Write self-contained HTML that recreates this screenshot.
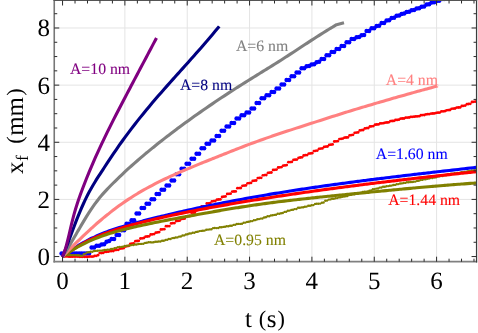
<!DOCTYPE html>
<html><head><meta charset="utf-8"><title>plot</title><style>html,body{margin:0;padding:0;background:#fff}svg{display:block;will-change:transform;opacity:0.999}svg text{text-rendering:geometricPrecision}</style></head><body>
<svg width="478" height="333" viewBox="0 0 478 333">
<rect width="478" height="333" fill="#fff"/>
<defs><clipPath id="pc"><rect x="54.25" y="0.50" width="422.30" height="261.20"/></clipPath></defs>
<g stroke="#e4e4e4" stroke-width="1"><line x1="124.89" y1="0.5" x2="124.89" y2="261.7"/><line x1="187.23" y1="0.5" x2="187.23" y2="261.7"/><line x1="249.57" y1="0.5" x2="249.57" y2="261.7"/><line x1="311.91" y1="0.5" x2="311.91" y2="261.7"/><line x1="374.25" y1="0.5" x2="374.25" y2="261.7"/><line x1="436.59" y1="0.5" x2="436.59" y2="261.7"/><line x1="54.2" y1="199.41" x2="476.6" y2="199.41"/><line x1="54.2" y1="142.27" x2="476.6" y2="142.27"/><line x1="54.2" y1="85.13" x2="476.6" y2="85.13"/><line x1="54.2" y1="27.99" x2="476.6" y2="27.99"/></g>
<g clip-path="url(#pc)">
<g fill="#0000ff"><circle cx="61.6" cy="253.4" r="2.25"/><circle cx="64.1" cy="253.4" r="2.25"/><circle cx="66.6" cy="253.4" r="2.25"/><circle cx="69.1" cy="253.4" r="2.25"/><circle cx="71.6" cy="253.4" r="2.25"/><circle cx="74.1" cy="253.4" r="2.25"/><circle cx="76.6" cy="253.4" r="2.25"/><circle cx="79.1" cy="253.4" r="2.25"/><circle cx="81.6" cy="253.4" r="2.25"/><circle cx="84.1" cy="253.4" r="2.25"/><circle cx="86.6" cy="253.4" r="2.25"/><circle cx="89.1" cy="253.4" r="2.25"/><circle cx="91.6" cy="247.6" r="2.25"/><circle cx="94.1" cy="247.6" r="2.25"/><circle cx="96.6" cy="245.7" r="2.25"/><circle cx="99.1" cy="245.7" r="2.25"/><circle cx="101.6" cy="244.5" r="2.25"/><circle cx="104.1" cy="244.3" r="2.25"/><circle cx="106.6" cy="241.7" r="2.25"/><circle cx="109.1" cy="241.0" r="2.25"/><circle cx="111.6" cy="239.0" r="2.25"/><circle cx="114.1" cy="239.0" r="2.25"/><circle cx="116.6" cy="235.1" r="2.25"/><circle cx="119.1" cy="235.1" r="2.25"/><circle cx="121.6" cy="230.3" r="2.25"/><circle cx="124.1" cy="230.3" r="2.25"/><circle cx="126.6" cy="223.8" r="2.25"/><circle cx="129.1" cy="223.8" r="2.25"/><circle cx="131.6" cy="220.3" r="2.25"/><circle cx="134.1" cy="220.3" r="2.25"/><circle cx="136.6" cy="213.5" r="2.25"/><circle cx="139.1" cy="213.5" r="2.25"/><circle cx="141.6" cy="208.0" r="2.25"/><circle cx="144.1" cy="208.0" r="2.25"/><circle cx="146.6" cy="203.7" r="2.25"/><circle cx="149.1" cy="203.7" r="2.25"/><circle cx="151.6" cy="199.2" r="2.25"/><circle cx="154.1" cy="199.2" r="2.25"/><circle cx="156.6" cy="194.1" r="2.25"/><circle cx="159.1" cy="194.1" r="2.25"/><circle cx="161.6" cy="189.8" r="2.25"/><circle cx="164.1" cy="189.8" r="2.25"/><circle cx="166.6" cy="185.6" r="2.25"/><circle cx="169.1" cy="185.6" r="2.25"/><circle cx="171.6" cy="180.6" r="2.25"/><circle cx="174.1" cy="180.6" r="2.25"/><circle cx="176.6" cy="174.2" r="2.25"/><circle cx="179.1" cy="174.2" r="2.25"/><circle cx="181.6" cy="168.8" r="2.25"/><circle cx="184.1" cy="168.8" r="2.25"/><circle cx="186.6" cy="163.7" r="2.25"/><circle cx="189.1" cy="163.7" r="2.25"/><circle cx="191.6" cy="158.7" r="2.25"/><circle cx="194.1" cy="158.7" r="2.25"/><circle cx="196.6" cy="153.8" r="2.25"/><circle cx="199.1" cy="153.8" r="2.25"/><circle cx="201.6" cy="148.3" r="2.25"/><circle cx="204.1" cy="148.3" r="2.25"/><circle cx="206.6" cy="143.8" r="2.25"/><circle cx="209.1" cy="143.8" r="2.25"/><circle cx="211.6" cy="140.4" r="2.25"/><circle cx="214.1" cy="140.4" r="2.25"/><circle cx="216.6" cy="135.9" r="2.25"/><circle cx="219.1" cy="135.9" r="2.25"/><circle cx="221.6" cy="130.8" r="2.25"/><circle cx="224.1" cy="130.8" r="2.25"/><circle cx="226.6" cy="126.5" r="2.25"/><circle cx="229.1" cy="126.5" r="2.25"/><circle cx="231.6" cy="122.9" r="2.25"/><circle cx="234.1" cy="122.9" r="2.25"/><circle cx="236.6" cy="118.5" r="2.25"/><circle cx="239.1" cy="118.5" r="2.25"/><circle cx="241.6" cy="115.2" r="2.25"/><circle cx="244.1" cy="115.2" r="2.25"/><circle cx="246.6" cy="112.5" r="2.25"/><circle cx="249.1" cy="112.5" r="2.25"/><circle cx="251.6" cy="108.4" r="2.25"/><circle cx="254.1" cy="108.4" r="2.25"/><circle cx="256.6" cy="102.9" r="2.25"/><circle cx="259.1" cy="102.9" r="2.25"/><circle cx="261.6" cy="98.2" r="2.25"/><circle cx="264.1" cy="98.2" r="2.25"/><circle cx="266.6" cy="95.2" r="2.25"/><circle cx="269.1" cy="95.2" r="2.25"/><circle cx="271.6" cy="92.1" r="2.25"/><circle cx="274.1" cy="92.1" r="2.25"/><circle cx="276.6" cy="88.5" r="2.25"/><circle cx="279.1" cy="88.5" r="2.25"/><circle cx="281.6" cy="84.5" r="2.25"/><circle cx="284.1" cy="84.5" r="2.25"/><circle cx="286.6" cy="80.1" r="2.25"/><circle cx="289.1" cy="80.1" r="2.25"/><circle cx="291.6" cy="76.3" r="2.25"/><circle cx="294.1" cy="76.3" r="2.25"/><circle cx="296.6" cy="72.4" r="2.25"/><circle cx="299.1" cy="72.4" r="2.25"/><circle cx="301.6" cy="68.2" r="2.25"/><circle cx="304.1" cy="68.2" r="2.25"/><circle cx="306.6" cy="66.3" r="2.25"/><circle cx="309.1" cy="66.1" r="2.25"/><circle cx="311.6" cy="64.5" r="2.25"/><circle cx="314.1" cy="64.2" r="2.25"/><circle cx="316.6" cy="62.2" r="2.25"/><circle cx="319.1" cy="61.8" r="2.25"/><circle cx="321.6" cy="59.0" r="2.25"/><circle cx="324.1" cy="59.0" r="2.25"/><circle cx="326.6" cy="55.3" r="2.25"/><circle cx="329.1" cy="55.3" r="2.25"/><circle cx="331.6" cy="52.1" r="2.25"/><circle cx="334.1" cy="52.1" r="2.25"/><circle cx="336.6" cy="49.0" r="2.25"/><circle cx="339.1" cy="49.0" r="2.25"/><circle cx="341.6" cy="46.0" r="2.25"/><circle cx="344.1" cy="46.0" r="2.25"/><circle cx="346.6" cy="42.2" r="2.25"/><circle cx="349.1" cy="42.2" r="2.25"/><circle cx="351.6" cy="39.1" r="2.25"/><circle cx="354.1" cy="39.1" r="2.25"/><circle cx="356.6" cy="37.3" r="2.25"/><circle cx="359.1" cy="37.0" r="2.25"/><circle cx="361.6" cy="35.2" r="2.25"/><circle cx="364.1" cy="35.1" r="2.25"/><circle cx="366.6" cy="31.0" r="2.25"/><circle cx="369.1" cy="31.0" r="2.25"/><circle cx="371.6" cy="28.3" r="2.25"/><circle cx="374.1" cy="28.3" r="2.25"/><circle cx="376.6" cy="25.9" r="2.25"/><circle cx="379.1" cy="25.7" r="2.25"/><circle cx="381.6" cy="23.1" r="2.25"/><circle cx="384.1" cy="22.9" r="2.25"/><circle cx="386.6" cy="20.5" r="2.25"/><circle cx="389.1" cy="20.3" r="2.25"/><circle cx="391.6" cy="18.1" r="2.25"/><circle cx="394.1" cy="17.7" r="2.25"/><circle cx="396.6" cy="15.7" r="2.25"/><circle cx="399.1" cy="15.4" r="2.25"/><circle cx="401.6" cy="13.9" r="2.25"/><circle cx="404.1" cy="13.6" r="2.25"/><circle cx="406.6" cy="12.1" r="2.25"/><circle cx="409.1" cy="11.8" r="2.25"/><circle cx="411.6" cy="10.3" r="2.25"/><circle cx="414.1" cy="10.1" r="2.25"/><circle cx="416.6" cy="8.6" r="2.25"/><circle cx="419.1" cy="8.3" r="2.25"/><circle cx="421.6" cy="6.8" r="2.25"/><circle cx="424.1" cy="6.5" r="2.25"/><circle cx="426.6" cy="4.6" r="2.25"/><circle cx="429.1" cy="4.3" r="2.25"/><circle cx="431.6" cy="2.5" r="2.25"/><circle cx="434.1" cy="2.2" r="2.25"/><circle cx="436.6" cy="1.0" r="2.25"/><circle cx="439.1" cy="0.7" r="2.25"/><circle cx="441.6" cy="-0.9" r="2.25"/><circle cx="444.1" cy="-1.1" r="2.25"/></g>
<g fill="#ff0000"><circle cx="64.0" cy="256.4" r="1.40"/><circle cx="65.7" cy="256.4" r="1.40"/><circle cx="67.4" cy="256.4" r="1.40"/><circle cx="69.1" cy="256.7" r="1.40"/><circle cx="70.8" cy="256.7" r="1.40"/><circle cx="72.5" cy="256.7" r="1.40"/><circle cx="74.2" cy="256.5" r="1.40"/><circle cx="75.9" cy="256.5" r="1.40"/><circle cx="77.6" cy="256.5" r="1.40"/><circle cx="79.3" cy="256.8" r="1.40"/><circle cx="81.0" cy="256.8" r="1.40"/><circle cx="82.7" cy="256.8" r="1.40"/><circle cx="84.4" cy="256.8" r="1.40"/><circle cx="86.1" cy="256.8" r="1.40"/><circle cx="87.8" cy="256.8" r="1.40"/><circle cx="89.5" cy="256.6" r="1.40"/><circle cx="91.2" cy="256.6" r="1.40"/><circle cx="92.9" cy="256.6" r="1.40"/><circle cx="94.6" cy="256.0" r="1.40"/><circle cx="96.3" cy="255.8" r="1.40"/><circle cx="98.0" cy="255.2" r="1.40"/><circle cx="99.7" cy="253.1" r="1.40"/><circle cx="101.4" cy="253.0" r="1.40"/><circle cx="103.1" cy="252.9" r="1.40"/><circle cx="104.8" cy="251.9" r="1.40"/><circle cx="106.5" cy="251.8" r="1.40"/><circle cx="108.2" cy="251.7" r="1.40"/><circle cx="109.9" cy="251.2" r="1.40"/><circle cx="111.6" cy="251.1" r="1.40"/><circle cx="113.3" cy="251.1" r="1.40"/><circle cx="115.0" cy="250.0" r="1.40"/><circle cx="116.7" cy="249.9" r="1.40"/><circle cx="118.4" cy="249.8" r="1.40"/><circle cx="120.1" cy="248.6" r="1.40"/><circle cx="121.8" cy="248.4" r="1.40"/><circle cx="123.5" cy="248.2" r="1.40"/><circle cx="125.2" cy="246.5" r="1.40"/><circle cx="126.9" cy="246.2" r="1.40"/><circle cx="128.6" cy="245.9" r="1.40"/><circle cx="130.3" cy="243.8" r="1.40"/><circle cx="132.0" cy="243.6" r="1.40"/><circle cx="133.7" cy="243.4" r="1.40"/><circle cx="135.4" cy="241.2" r="1.40"/><circle cx="137.1" cy="241.0" r="1.40"/><circle cx="138.8" cy="240.8" r="1.40"/><circle cx="140.5" cy="238.5" r="1.40"/><circle cx="142.2" cy="238.3" r="1.40"/><circle cx="143.9" cy="238.0" r="1.40"/><circle cx="145.6" cy="236.7" r="1.40"/><circle cx="147.3" cy="236.5" r="1.40"/><circle cx="149.0" cy="236.3" r="1.40"/><circle cx="150.7" cy="234.5" r="1.40"/><circle cx="152.4" cy="234.3" r="1.40"/><circle cx="154.1" cy="234.1" r="1.40"/><circle cx="155.8" cy="232.7" r="1.40"/><circle cx="157.5" cy="232.4" r="1.40"/><circle cx="159.2" cy="232.1" r="1.40"/><circle cx="160.9" cy="229.5" r="1.40"/><circle cx="162.6" cy="229.3" r="1.40"/><circle cx="164.3" cy="229.2" r="1.40"/><circle cx="166.0" cy="226.2" r="1.40"/><circle cx="167.7" cy="226.2" r="1.40"/><circle cx="169.4" cy="226.1" r="1.40"/><circle cx="171.1" cy="223.4" r="1.40"/><circle cx="172.8" cy="223.2" r="1.40"/><circle cx="174.5" cy="223.1" r="1.40"/><circle cx="176.2" cy="221.1" r="1.40"/><circle cx="177.9" cy="220.9" r="1.40"/><circle cx="179.6" cy="220.7" r="1.40"/><circle cx="181.3" cy="219.0" r="1.40"/><circle cx="183.0" cy="218.8" r="1.40"/><circle cx="184.7" cy="218.6" r="1.40"/><circle cx="186.4" cy="216.3" r="1.40"/><circle cx="188.1" cy="216.2" r="1.40"/><circle cx="189.8" cy="216.0" r="1.40"/><circle cx="191.5" cy="212.7" r="1.40"/><circle cx="193.2" cy="212.7" r="1.40"/><circle cx="194.9" cy="212.7" r="1.40"/><circle cx="196.6" cy="209.4" r="1.40"/><circle cx="198.3" cy="209.4" r="1.40"/><circle cx="200.0" cy="209.4" r="1.40"/><circle cx="201.7" cy="206.4" r="1.40"/><circle cx="203.4" cy="206.4" r="1.40"/><circle cx="205.1" cy="206.4" r="1.40"/><circle cx="206.8" cy="203.5" r="1.40"/><circle cx="208.5" cy="203.3" r="1.40"/><circle cx="210.2" cy="203.2" r="1.40"/><circle cx="211.9" cy="201.4" r="1.40"/><circle cx="213.6" cy="201.2" r="1.40"/><circle cx="215.3" cy="201.0" r="1.40"/><circle cx="217.0" cy="199.7" r="1.40"/><circle cx="218.7" cy="199.5" r="1.40"/><circle cx="220.4" cy="199.4" r="1.40"/><circle cx="222.1" cy="197.0" r="1.40"/><circle cx="223.8" cy="196.7" r="1.40"/><circle cx="225.5" cy="196.4" r="1.40"/><circle cx="227.2" cy="193.9" r="1.40"/><circle cx="228.9" cy="193.8" r="1.40"/><circle cx="230.6" cy="193.7" r="1.40"/><circle cx="232.3" cy="191.6" r="1.40"/><circle cx="234.0" cy="191.5" r="1.40"/><circle cx="235.7" cy="191.4" r="1.40"/><circle cx="237.4" cy="188.2" r="1.40"/><circle cx="239.1" cy="188.1" r="1.40"/><circle cx="240.8" cy="188.0" r="1.40"/><circle cx="242.5" cy="185.8" r="1.40"/><circle cx="244.2" cy="185.6" r="1.40"/><circle cx="245.9" cy="185.4" r="1.40"/><circle cx="247.6" cy="183.3" r="1.40"/><circle cx="249.3" cy="183.1" r="1.40"/><circle cx="251.0" cy="182.9" r="1.40"/><circle cx="252.7" cy="180.9" r="1.40"/><circle cx="254.4" cy="180.7" r="1.40"/><circle cx="256.1" cy="180.5" r="1.40"/><circle cx="257.8" cy="178.1" r="1.40"/><circle cx="259.5" cy="177.9" r="1.40"/><circle cx="261.2" cy="177.8" r="1.40"/><circle cx="262.9" cy="175.3" r="1.40"/><circle cx="264.6" cy="175.1" r="1.40"/><circle cx="266.3" cy="175.0" r="1.40"/><circle cx="268.0" cy="172.8" r="1.40"/><circle cx="269.7" cy="172.7" r="1.40"/><circle cx="271.4" cy="172.5" r="1.40"/><circle cx="273.1" cy="169.9" r="1.40"/><circle cx="274.8" cy="169.8" r="1.40"/><circle cx="276.5" cy="169.6" r="1.40"/><circle cx="278.2" cy="167.5" r="1.40"/><circle cx="279.9" cy="167.3" r="1.40"/><circle cx="281.6" cy="167.1" r="1.40"/><circle cx="283.3" cy="165.6" r="1.40"/><circle cx="285.0" cy="165.4" r="1.40"/><circle cx="286.7" cy="165.1" r="1.40"/><circle cx="288.4" cy="162.2" r="1.40"/><circle cx="290.1" cy="162.1" r="1.40"/><circle cx="291.8" cy="161.9" r="1.40"/><circle cx="293.5" cy="159.9" r="1.40"/><circle cx="295.2" cy="159.7" r="1.40"/><circle cx="296.9" cy="159.6" r="1.40"/><circle cx="298.6" cy="157.8" r="1.40"/><circle cx="300.3" cy="157.5" r="1.40"/><circle cx="302.0" cy="157.3" r="1.40"/><circle cx="303.7" cy="155.5" r="1.40"/><circle cx="305.4" cy="155.2" r="1.40"/><circle cx="307.1" cy="155.1" r="1.40"/><circle cx="308.8" cy="153.6" r="1.40"/><circle cx="310.5" cy="153.4" r="1.40"/><circle cx="312.2" cy="153.2" r="1.40"/><circle cx="313.9" cy="151.1" r="1.40"/><circle cx="315.6" cy="150.8" r="1.40"/><circle cx="317.3" cy="150.6" r="1.40"/><circle cx="319.0" cy="148.8" r="1.40"/><circle cx="320.7" cy="148.6" r="1.40"/><circle cx="322.4" cy="148.4" r="1.40"/><circle cx="324.1" cy="146.9" r="1.40"/><circle cx="325.8" cy="146.7" r="1.40"/><circle cx="327.5" cy="146.5" r="1.40"/><circle cx="329.2" cy="144.9" r="1.40"/><circle cx="330.9" cy="144.7" r="1.40"/><circle cx="332.6" cy="144.4" r="1.40"/><circle cx="334.3" cy="141.5" r="1.40"/><circle cx="336.0" cy="141.3" r="1.40"/><circle cx="337.7" cy="141.2" r="1.40"/><circle cx="339.4" cy="139.1" r="1.40"/><circle cx="341.1" cy="138.8" r="1.40"/><circle cx="342.8" cy="138.6" r="1.40"/><circle cx="344.5" cy="137.7" r="1.40"/><circle cx="346.2" cy="137.5" r="1.40"/><circle cx="347.9" cy="137.4" r="1.40"/><circle cx="349.6" cy="135.4" r="1.40"/><circle cx="351.3" cy="135.1" r="1.40"/><circle cx="353.0" cy="134.8" r="1.40"/><circle cx="354.7" cy="132.8" r="1.40"/><circle cx="356.4" cy="132.6" r="1.40"/><circle cx="358.1" cy="132.4" r="1.40"/><circle cx="359.8" cy="130.4" r="1.40"/><circle cx="361.5" cy="130.2" r="1.40"/><circle cx="363.2" cy="130.0" r="1.40"/><circle cx="364.9" cy="128.4" r="1.40"/><circle cx="366.6" cy="128.2" r="1.40"/><circle cx="368.3" cy="128.0" r="1.40"/><circle cx="370.0" cy="126.5" r="1.40"/><circle cx="371.7" cy="126.3" r="1.40"/><circle cx="373.4" cy="126.1" r="1.40"/><circle cx="375.1" cy="124.7" r="1.40"/><circle cx="376.8" cy="124.5" r="1.40"/><circle cx="378.5" cy="124.4" r="1.40"/><circle cx="380.2" cy="123.4" r="1.40"/><circle cx="381.9" cy="123.3" r="1.40"/><circle cx="383.6" cy="123.2" r="1.40"/><circle cx="385.3" cy="122.6" r="1.40"/><circle cx="387.0" cy="122.5" r="1.40"/><circle cx="388.7" cy="122.3" r="1.40"/><circle cx="390.4" cy="121.1" r="1.40"/><circle cx="392.1" cy="121.0" r="1.40"/><circle cx="393.8" cy="120.9" r="1.40"/><circle cx="395.5" cy="120.0" r="1.40"/><circle cx="397.2" cy="119.9" r="1.40"/><circle cx="398.9" cy="119.7" r="1.40"/><circle cx="400.6" cy="118.7" r="1.40"/><circle cx="402.3" cy="118.5" r="1.40"/><circle cx="404.0" cy="118.5" r="1.40"/><circle cx="405.7" cy="117.7" r="1.40"/><circle cx="407.4" cy="117.6" r="1.40"/><circle cx="409.1" cy="117.5" r="1.40"/><circle cx="410.8" cy="116.9" r="1.40"/><circle cx="412.5" cy="116.8" r="1.40"/><circle cx="414.2" cy="116.7" r="1.40"/><circle cx="415.9" cy="116.4" r="1.40"/><circle cx="417.6" cy="116.3" r="1.40"/><circle cx="419.3" cy="116.2" r="1.40"/><circle cx="421.0" cy="115.2" r="1.40"/><circle cx="422.7" cy="115.1" r="1.40"/><circle cx="424.4" cy="115.0" r="1.40"/><circle cx="426.1" cy="114.3" r="1.40"/><circle cx="427.8" cy="114.2" r="1.40"/><circle cx="429.5" cy="114.1" r="1.40"/><circle cx="431.2" cy="113.6" r="1.40"/><circle cx="432.9" cy="113.5" r="1.40"/><circle cx="434.6" cy="113.4" r="1.40"/><circle cx="436.3" cy="112.8" r="1.40"/><circle cx="438.0" cy="112.7" r="1.40"/><circle cx="439.7" cy="112.6" r="1.40"/><circle cx="441.4" cy="111.4" r="1.40"/><circle cx="443.1" cy="111.3" r="1.40"/><circle cx="444.8" cy="111.2" r="1.40"/><circle cx="446.5" cy="110.3" r="1.40"/><circle cx="448.2" cy="110.1" r="1.40"/><circle cx="449.9" cy="110.0" r="1.40"/><circle cx="451.6" cy="108.8" r="1.40"/><circle cx="453.3" cy="108.6" r="1.40"/><circle cx="455.0" cy="108.5" r="1.40"/><circle cx="456.7" cy="107.6" r="1.40"/><circle cx="458.4" cy="107.5" r="1.40"/><circle cx="460.1" cy="107.4" r="1.40"/><circle cx="461.8" cy="106.0" r="1.40"/><circle cx="463.5" cy="105.8" r="1.40"/><circle cx="465.2" cy="105.6" r="1.40"/><circle cx="466.9" cy="104.2" r="1.40"/><circle cx="468.6" cy="104.0" r="1.40"/><circle cx="470.3" cy="103.8" r="1.40"/><circle cx="472.0" cy="102.0" r="1.40"/><circle cx="473.7" cy="101.8" r="1.40"/><circle cx="475.4" cy="101.6" r="1.40"/><circle cx="477.1" cy="100.6" r="1.40"/><circle cx="478.8" cy="100.5" r="1.40"/><circle cx="480.5" cy="100.5" r="1.40"/></g>
<g fill="#808000"><circle cx="63.5" cy="254.5" r="1.20"/><circle cx="65.2" cy="254.6" r="1.20"/><circle cx="66.9" cy="255.0" r="1.20"/><circle cx="68.6" cy="255.1" r="1.20"/><circle cx="70.3" cy="255.0" r="1.20"/><circle cx="72.0" cy="255.1" r="1.20"/><circle cx="73.7" cy="255.1" r="1.20"/><circle cx="75.4" cy="255.1" r="1.20"/><circle cx="77.1" cy="255.2" r="1.20"/><circle cx="78.8" cy="255.3" r="1.20"/><circle cx="80.5" cy="255.7" r="1.20"/><circle cx="82.2" cy="255.7" r="1.20"/><circle cx="83.9" cy="254.1" r="1.20"/><circle cx="85.6" cy="253.6" r="1.20"/><circle cx="87.3" cy="252.4" r="1.20"/><circle cx="89.0" cy="252.3" r="1.20"/><circle cx="90.7" cy="251.8" r="1.20"/><circle cx="92.4" cy="251.7" r="1.20"/><circle cx="94.1" cy="251.0" r="1.20"/><circle cx="95.8" cy="250.9" r="1.20"/><circle cx="97.5" cy="250.7" r="1.20"/><circle cx="99.2" cy="250.6" r="1.20"/><circle cx="100.9" cy="250.6" r="1.20"/><circle cx="102.6" cy="250.5" r="1.20"/><circle cx="104.3" cy="250.0" r="1.20"/><circle cx="106.0" cy="249.9" r="1.20"/><circle cx="107.7" cy="249.6" r="1.20"/><circle cx="109.4" cy="249.6" r="1.20"/><circle cx="111.1" cy="249.0" r="1.20"/><circle cx="112.8" cy="249.0" r="1.20"/><circle cx="114.5" cy="248.1" r="1.20"/><circle cx="116.2" cy="248.0" r="1.20"/><circle cx="117.9" cy="247.1" r="1.20"/><circle cx="119.6" cy="247.0" r="1.20"/><circle cx="121.3" cy="246.9" r="1.20"/><circle cx="123.0" cy="246.8" r="1.20"/><circle cx="124.7" cy="246.0" r="1.20"/><circle cx="126.4" cy="246.0" r="1.20"/><circle cx="128.1" cy="245.6" r="1.20"/><circle cx="129.8" cy="245.5" r="1.20"/><circle cx="131.5" cy="245.1" r="1.20"/><circle cx="133.2" cy="245.0" r="1.20"/><circle cx="134.9" cy="244.5" r="1.20"/><circle cx="136.6" cy="244.5" r="1.20"/><circle cx="138.3" cy="244.0" r="1.20"/><circle cx="140.0" cy="243.9" r="1.20"/><circle cx="141.7" cy="243.9" r="1.20"/><circle cx="143.4" cy="243.8" r="1.20"/><circle cx="145.1" cy="242.9" r="1.20"/><circle cx="146.8" cy="242.8" r="1.20"/><circle cx="148.5" cy="242.3" r="1.20"/><circle cx="150.2" cy="242.2" r="1.20"/><circle cx="151.9" cy="242.4" r="1.20"/><circle cx="153.6" cy="242.3" r="1.20"/><circle cx="155.3" cy="241.8" r="1.20"/><circle cx="157.0" cy="241.7" r="1.20"/><circle cx="158.7" cy="241.5" r="1.20"/><circle cx="160.4" cy="241.5" r="1.20"/><circle cx="162.1" cy="240.8" r="1.20"/><circle cx="163.8" cy="240.7" r="1.20"/><circle cx="165.5" cy="240.0" r="1.20"/><circle cx="167.2" cy="239.8" r="1.20"/><circle cx="168.9" cy="239.0" r="1.20"/><circle cx="170.6" cy="239.0" r="1.20"/><circle cx="172.3" cy="238.1" r="1.20"/><circle cx="174.0" cy="238.0" r="1.20"/><circle cx="175.7" cy="237.5" r="1.20"/><circle cx="177.4" cy="237.4" r="1.20"/><circle cx="179.1" cy="236.6" r="1.20"/><circle cx="180.8" cy="236.5" r="1.20"/><circle cx="182.5" cy="235.5" r="1.20"/><circle cx="184.2" cy="235.4" r="1.20"/><circle cx="185.9" cy="234.5" r="1.20"/><circle cx="187.6" cy="234.3" r="1.20"/><circle cx="189.3" cy="233.5" r="1.20"/><circle cx="191.0" cy="233.4" r="1.20"/><circle cx="192.7" cy="232.8" r="1.20"/><circle cx="194.4" cy="232.7" r="1.20"/><circle cx="196.1" cy="231.9" r="1.20"/><circle cx="197.8" cy="231.8" r="1.20"/><circle cx="199.5" cy="231.1" r="1.20"/><circle cx="201.2" cy="230.9" r="1.20"/><circle cx="202.9" cy="230.7" r="1.20"/><circle cx="204.6" cy="230.6" r="1.20"/><circle cx="206.3" cy="229.7" r="1.20"/><circle cx="208.0" cy="229.6" r="1.20"/><circle cx="209.7" cy="229.4" r="1.20"/><circle cx="211.4" cy="229.3" r="1.20"/><circle cx="213.1" cy="228.1" r="1.20"/><circle cx="214.8" cy="228.0" r="1.20"/><circle cx="216.5" cy="228.1" r="1.20"/><circle cx="218.2" cy="228.0" r="1.20"/><circle cx="219.9" cy="227.3" r="1.20"/><circle cx="221.6" cy="227.3" r="1.20"/><circle cx="223.3" cy="226.9" r="1.20"/><circle cx="225.0" cy="226.8" r="1.20"/><circle cx="226.7" cy="226.3" r="1.20"/><circle cx="228.4" cy="226.2" r="1.20"/><circle cx="230.1" cy="225.7" r="1.20"/><circle cx="231.8" cy="225.7" r="1.20"/><circle cx="233.5" cy="224.9" r="1.20"/><circle cx="235.2" cy="224.8" r="1.20"/><circle cx="236.9" cy="224.0" r="1.20"/><circle cx="238.6" cy="223.9" r="1.20"/><circle cx="240.3" cy="223.9" r="1.20"/><circle cx="242.0" cy="223.8" r="1.20"/><circle cx="243.7" cy="222.7" r="1.20"/><circle cx="245.4" cy="222.6" r="1.20"/><circle cx="247.1" cy="221.9" r="1.20"/><circle cx="248.8" cy="221.8" r="1.20"/><circle cx="250.5" cy="221.2" r="1.20"/><circle cx="252.2" cy="221.1" r="1.20"/><circle cx="253.9" cy="220.2" r="1.20"/><circle cx="255.6" cy="220.1" r="1.20"/><circle cx="257.3" cy="219.2" r="1.20"/><circle cx="259.0" cy="219.1" r="1.20"/><circle cx="260.7" cy="218.6" r="1.20"/><circle cx="262.4" cy="218.5" r="1.20"/><circle cx="264.1" cy="217.5" r="1.20"/><circle cx="265.8" cy="217.3" r="1.20"/><circle cx="267.5" cy="216.3" r="1.20"/><circle cx="269.2" cy="216.2" r="1.20"/><circle cx="270.9" cy="215.4" r="1.20"/><circle cx="272.6" cy="215.3" r="1.20"/><circle cx="274.3" cy="214.9" r="1.20"/><circle cx="276.0" cy="214.8" r="1.20"/><circle cx="277.7" cy="213.8" r="1.20"/><circle cx="279.4" cy="213.7" r="1.20"/><circle cx="281.1" cy="213.2" r="1.20"/><circle cx="282.8" cy="213.0" r="1.20"/><circle cx="284.5" cy="211.9" r="1.20"/><circle cx="286.2" cy="211.7" r="1.20"/><circle cx="287.9" cy="210.7" r="1.20"/><circle cx="289.6" cy="210.6" r="1.20"/><circle cx="291.3" cy="209.9" r="1.20"/><circle cx="293.0" cy="209.8" r="1.20"/><circle cx="294.7" cy="209.1" r="1.20"/><circle cx="296.4" cy="209.0" r="1.20"/><circle cx="298.1" cy="207.8" r="1.20"/><circle cx="299.8" cy="207.7" r="1.20"/><circle cx="301.5" cy="207.4" r="1.20"/><circle cx="303.2" cy="207.3" r="1.20"/><circle cx="304.9" cy="206.7" r="1.20"/><circle cx="306.6" cy="206.6" r="1.20"/><circle cx="308.3" cy="205.8" r="1.20"/><circle cx="310.0" cy="205.7" r="1.20"/><circle cx="311.7" cy="205.2" r="1.20"/><circle cx="313.4" cy="205.1" r="1.20"/><circle cx="315.1" cy="203.9" r="1.20"/><circle cx="316.8" cy="203.8" r="1.20"/><circle cx="318.5" cy="203.7" r="1.20"/><circle cx="320.2" cy="203.6" r="1.20"/><circle cx="321.9" cy="202.7" r="1.20"/><circle cx="323.6" cy="202.5" r="1.20"/><circle cx="325.3" cy="200.8" r="1.20"/><circle cx="327.0" cy="200.6" r="1.20"/><circle cx="328.7" cy="199.6" r="1.20"/><circle cx="330.4" cy="199.4" r="1.20"/><circle cx="332.1" cy="198.8" r="1.20"/><circle cx="333.8" cy="198.7" r="1.20"/><circle cx="335.5" cy="198.2" r="1.20"/><circle cx="337.2" cy="198.1" r="1.20"/><circle cx="338.9" cy="197.4" r="1.20"/><circle cx="340.6" cy="197.3" r="1.20"/><circle cx="342.3" cy="196.7" r="1.20"/><circle cx="344.0" cy="196.6" r="1.20"/><circle cx="345.7" cy="196.2" r="1.20"/><circle cx="347.4" cy="196.1" r="1.20"/><circle cx="349.1" cy="195.0" r="1.20"/><circle cx="350.8" cy="194.9" r="1.20"/><circle cx="352.5" cy="194.4" r="1.20"/><circle cx="354.2" cy="194.3" r="1.20"/><circle cx="355.9" cy="193.8" r="1.20"/><circle cx="357.6" cy="193.7" r="1.20"/><circle cx="359.3" cy="192.9" r="1.20"/><circle cx="361.0" cy="192.8" r="1.20"/><circle cx="362.7" cy="192.0" r="1.20"/><circle cx="364.4" cy="191.8" r="1.20"/><circle cx="366.1" cy="191.6" r="1.20"/><circle cx="367.8" cy="191.5" r="1.20"/><circle cx="369.5" cy="190.6" r="1.20"/><circle cx="371.2" cy="190.5" r="1.20"/><circle cx="372.9" cy="189.2" r="1.20"/><circle cx="374.6" cy="189.1" r="1.20"/><circle cx="376.3" cy="188.6" r="1.20"/><circle cx="378.0" cy="188.5" r="1.20"/><circle cx="379.7" cy="187.6" r="1.20"/><circle cx="381.4" cy="187.5" r="1.20"/><circle cx="383.1" cy="186.8" r="1.20"/><circle cx="384.8" cy="186.7" r="1.20"/><circle cx="386.5" cy="186.2" r="1.20"/><circle cx="388.2" cy="186.1" r="1.20"/><circle cx="389.9" cy="185.7" r="1.20"/><circle cx="391.6" cy="185.6" r="1.20"/><circle cx="393.3" cy="185.0" r="1.20"/><circle cx="395.0" cy="184.9" r="1.20"/><circle cx="396.7" cy="184.2" r="1.20"/><circle cx="398.4" cy="184.1" r="1.20"/><circle cx="400.1" cy="183.5" r="1.20"/><circle cx="401.8" cy="183.4" r="1.20"/><circle cx="403.5" cy="183.0" r="1.20"/><circle cx="405.2" cy="182.9" r="1.20"/><circle cx="406.9" cy="182.3" r="1.20"/><circle cx="408.6" cy="182.2" r="1.20"/><circle cx="410.3" cy="182.0" r="1.20"/><circle cx="412.0" cy="182.0" r="1.20"/><circle cx="413.7" cy="181.7" r="1.20"/><circle cx="415.4" cy="181.6" r="1.20"/><circle cx="417.1" cy="180.9" r="1.20"/><circle cx="418.8" cy="180.8" r="1.20"/><circle cx="420.5" cy="180.0" r="1.20"/><circle cx="422.2" cy="179.9" r="1.20"/><circle cx="423.9" cy="179.3" r="1.20"/><circle cx="425.6" cy="179.2" r="1.20"/><circle cx="427.3" cy="178.7" r="1.20"/><circle cx="429.0" cy="178.6" r="1.20"/><circle cx="430.7" cy="178.1" r="1.20"/><circle cx="432.4" cy="178.0" r="1.20"/><circle cx="434.1" cy="177.5" r="1.20"/><circle cx="435.8" cy="177.4" r="1.20"/><circle cx="437.5" cy="176.5" r="1.20"/><circle cx="439.2" cy="176.4" r="1.20"/><circle cx="440.9" cy="176.1" r="1.20"/><circle cx="442.6" cy="176.0" r="1.20"/><circle cx="444.3" cy="175.3" r="1.20"/><circle cx="446.0" cy="175.2" r="1.20"/><circle cx="447.7" cy="174.5" r="1.20"/><circle cx="449.4" cy="174.3" r="1.20"/><circle cx="451.1" cy="173.8" r="1.20"/><circle cx="452.8" cy="173.7" r="1.20"/><circle cx="454.5" cy="173.3" r="1.20"/><circle cx="456.2" cy="173.3" r="1.20"/><circle cx="457.9" cy="172.9" r="1.20"/><circle cx="459.6" cy="172.9" r="1.20"/><circle cx="461.3" cy="172.2" r="1.20"/><circle cx="463.0" cy="172.1" r="1.20"/><circle cx="464.7" cy="171.9" r="1.20"/><circle cx="466.4" cy="171.8" r="1.20"/><circle cx="468.1" cy="171.2" r="1.20"/><circle cx="469.8" cy="171.1" r="1.20"/><circle cx="471.5" cy="170.5" r="1.20"/><circle cx="473.2" cy="170.4" r="1.20"/><circle cx="474.9" cy="170.2" r="1.20"/><circle cx="476.6" cy="170.1" r="1.20"/></g>
<path d="M62.30 256.86 C62.80 256.47 64.30 255.28 65.30 254.51 C66.30 253.75 67.30 253.00 68.30 252.28 C69.30 251.55 70.30 250.84 71.30 250.15 C72.30 249.46 73.30 248.79 74.30 248.13 C75.30 247.47 76.30 246.83 77.30 246.21 C78.30 245.59 79.30 244.98 80.30 244.39 C81.30 243.79 82.30 243.22 83.30 242.65 C84.30 242.09 85.30 241.54 86.30 241.01 C87.30 240.48 88.30 239.96 89.30 239.45 C90.30 238.95 91.30 238.45 92.30 237.97 C93.30 237.49 94.30 237.02 95.30 236.57 C96.30 236.11 97.30 235.67 98.30 235.23 C99.30 234.80 100.30 234.38 101.30 233.97 C102.30 233.56 103.30 233.15 104.30 232.76 C105.30 232.37 106.30 231.99 107.30 231.62 C108.30 231.24 109.30 230.88 110.30 230.53 C111.30 230.17 112.30 229.82 113.30 229.48 C114.30 229.14 115.30 228.81 116.30 228.49 C117.30 228.16 118.30 227.84 119.30 227.53 C120.30 227.22 121.30 226.91 122.30 226.61 C123.30 226.31 124.30 226.02 125.30 225.73 C126.30 225.44 127.30 225.15 128.30 224.87 C129.30 224.59 130.30 224.31 131.30 224.04 C132.30 223.77 133.30 223.50 134.30 223.23 C135.30 222.96 136.30 222.69 137.30 222.43 C138.30 222.17 139.30 221.91 140.30 221.65 C141.30 221.38 142.30 221.13 143.30 220.87 C144.30 220.61 145.30 220.35 146.30 220.10 C147.30 219.84 148.30 219.59 149.30 219.34 C150.30 219.08 151.30 218.83 152.30 218.58 C153.30 218.33 154.30 218.08 155.30 217.84 C156.30 217.59 157.30 217.34 158.30 217.10 C159.30 216.85 160.30 216.61 161.30 216.36 C162.30 216.12 163.30 215.88 164.30 215.64 C165.30 215.40 166.30 215.16 167.30 214.92 C168.30 214.68 169.30 214.45 170.30 214.21 C171.30 213.97 172.30 213.74 173.30 213.51 C174.30 213.27 175.30 213.04 176.30 212.81 C177.30 212.58 178.30 212.35 179.30 212.12 C180.30 211.89 181.30 211.67 182.30 211.44 C183.30 211.21 184.30 210.99 185.30 210.76 C186.30 210.54 187.30 210.32 188.30 210.09 C189.30 209.87 190.30 209.65 191.30 209.43 C192.30 209.21 193.30 208.99 194.30 208.78 C195.30 208.56 196.30 208.34 197.30 208.13 C198.30 207.91 199.30 207.70 200.30 207.49 C201.30 207.27 202.30 207.06 203.30 206.85 C204.30 206.64 205.30 206.43 206.30 206.22 C207.30 206.01 208.30 205.81 209.30 205.60 C210.30 205.39 211.30 205.19 212.30 204.98 C213.30 204.78 214.30 204.57 215.30 204.37 C216.30 204.17 217.30 203.97 218.30 203.77 C219.30 203.57 220.30 203.37 221.30 203.17 C222.30 202.97 223.30 202.78 224.30 202.58 C225.30 202.38 226.30 202.19 227.30 201.99 C228.30 201.80 229.30 201.61 230.30 201.41 C231.30 201.22 232.30 201.03 233.30 200.84 C234.30 200.65 235.30 200.46 236.30 200.27 C237.30 200.09 238.30 199.90 239.30 199.71 C240.30 199.53 241.30 199.34 242.30 199.16 C243.30 198.97 244.30 198.79 245.30 198.61 C246.30 198.42 247.30 198.24 248.30 198.06 C249.30 197.88 250.30 197.70 251.30 197.52 C252.30 197.34 253.30 197.17 254.30 196.99 C255.30 196.81 256.30 196.64 257.30 196.46 C258.30 196.29 259.30 196.11 260.30 195.94 C261.30 195.77 262.30 195.59 263.30 195.42 C264.30 195.25 265.30 195.08 266.30 194.91 C267.30 194.74 268.30 194.57 269.30 194.40 C270.30 194.23 271.30 194.07 272.30 193.90 C273.30 193.73 274.30 193.57 275.30 193.40 C276.30 193.24 277.30 193.08 278.30 192.91 C279.30 192.75 280.30 192.59 281.30 192.42 C282.30 192.26 283.30 192.10 284.30 191.94 C285.30 191.78 286.30 191.62 287.30 191.46 C288.30 191.31 289.30 191.15 290.30 190.99 C291.30 190.83 292.30 190.68 293.30 190.52 C294.30 190.37 295.30 190.21 296.30 190.06 C297.30 189.90 298.30 189.75 299.30 189.60 C300.30 189.45 301.30 189.29 302.30 189.14 C303.30 188.99 304.30 188.84 305.30 188.69 C306.30 188.54 307.30 188.39 308.30 188.24 C309.30 188.09 310.30 187.95 311.30 187.80 C312.30 187.65 313.30 187.51 314.30 187.36 C315.30 187.21 316.30 187.07 317.30 186.92 C318.30 186.78 319.30 186.64 320.30 186.49 C321.30 186.35 322.30 186.21 323.30 186.07 C324.30 185.92 325.30 185.78 326.30 185.64 C327.30 185.50 328.30 185.36 329.30 185.22 C330.30 185.08 331.30 184.94 332.30 184.80 C333.30 184.66 334.30 184.53 335.30 184.39 C336.30 184.25 337.30 184.12 338.30 183.98 C339.30 183.84 340.30 183.71 341.30 183.57 C342.30 183.44 343.30 183.30 344.30 183.17 C345.30 183.03 346.30 182.90 347.30 182.77 C348.30 182.63 349.30 182.50 350.30 182.37 C351.30 182.24 352.30 182.11 353.30 181.97 C354.30 181.84 355.30 181.71 356.30 181.58 C357.30 181.45 358.30 181.32 359.30 181.19 C360.30 181.06 361.30 180.93 362.30 180.81 C363.30 180.68 364.30 180.55 365.30 180.42 C366.30 180.30 367.30 180.17 368.30 180.04 C369.30 179.91 370.30 179.79 371.30 179.66 C372.30 179.54 373.30 179.41 374.30 179.29 C375.30 179.16 376.30 179.04 377.30 178.91 C378.30 178.79 379.30 178.66 380.30 178.54 C381.30 178.42 382.30 178.29 383.30 178.17 C384.30 178.05 385.30 177.93 386.30 177.80 C387.30 177.68 388.30 177.56 389.30 177.44 C390.30 177.32 391.30 177.20 392.30 177.08 C393.30 176.95 394.30 176.83 395.30 176.71 C396.30 176.59 397.30 176.47 398.30 176.35 C399.30 176.23 400.30 176.12 401.30 176.00 C402.30 175.88 403.30 175.76 404.30 175.64 C405.30 175.52 406.30 175.40 407.30 175.29 C408.30 175.17 409.30 175.05 410.30 174.93 C411.30 174.81 412.30 174.70 413.30 174.58 C414.30 174.46 415.30 174.35 416.30 174.23 C417.30 174.11 418.30 174.00 419.30 173.88 C420.30 173.76 421.30 173.65 422.30 173.53 C423.30 173.42 424.30 173.30 425.30 173.19 C426.30 173.07 427.30 172.96 428.30 172.84 C429.30 172.73 430.30 172.61 431.30 172.50 C432.30 172.38 433.30 172.27 434.30 172.15 C435.30 172.04 436.30 171.92 437.30 171.81 C438.30 171.69 439.30 171.58 440.30 171.47 C441.30 171.35 442.30 171.24 443.30 171.12 C444.30 171.01 445.30 170.90 446.30 170.78 C447.30 170.67 448.30 170.56 449.30 170.44 C450.30 170.33 451.30 170.22 452.30 170.10 C453.30 169.99 454.30 169.88 455.30 169.76 C456.30 169.65 457.30 169.54 458.30 169.42 C459.30 169.31 460.30 169.20 461.30 169.08 C462.30 168.97 463.30 168.86 464.30 168.74 C465.30 168.63 466.30 168.52 467.30 168.40 C468.30 168.29 469.30 168.18 470.30 168.06 C471.30 167.95 472.30 167.84 473.30 167.73 C474.30 167.61 475.72 167.45 476.30 167.39 C476.88 167.32 476.72 167.34 476.80 167.33" fill="none" stroke="#0000ff" stroke-width="3.1" stroke-linejoin="round"/>
<path d="M62.30 256.84 C62.80 256.47 64.30 255.34 65.30 254.62 C66.30 253.90 67.30 253.20 68.30 252.51 C69.30 251.82 70.30 251.15 71.30 250.49 C72.30 249.83 73.30 249.19 74.30 248.57 C75.30 247.94 76.30 247.33 77.30 246.74 C78.30 246.14 79.30 245.56 80.30 244.99 C81.30 244.42 82.30 243.87 83.30 243.33 C84.30 242.79 85.30 242.26 86.30 241.74 C87.30 241.23 88.30 240.73 89.30 240.24 C90.30 239.75 91.30 239.27 92.30 238.80 C93.30 238.33 94.30 237.88 95.30 237.43 C96.30 236.99 97.30 236.56 98.30 236.13 C99.30 235.71 100.30 235.30 101.30 234.89 C102.30 234.49 103.30 234.10 104.30 233.71 C105.30 233.33 106.30 232.95 107.30 232.58 C108.30 232.22 109.30 231.86 110.30 231.51 C111.30 231.16 112.30 230.81 113.30 230.48 C114.30 230.14 115.30 229.81 116.30 229.49 C117.30 229.17 118.30 228.85 119.30 228.55 C120.30 228.24 121.30 227.93 122.30 227.64 C123.30 227.34 124.30 227.05 125.30 226.76 C126.30 226.47 127.30 226.19 128.30 225.91 C129.30 225.63 130.30 225.36 131.30 225.09 C132.30 224.82 133.30 224.55 134.30 224.29 C135.30 224.02 136.30 223.76 137.30 223.51 C138.30 223.25 139.30 222.99 140.30 222.74 C141.30 222.49 142.30 222.23 143.30 221.98 C144.30 221.73 145.30 221.49 146.30 221.24 C147.30 220.99 148.30 220.75 149.30 220.51 C150.30 220.27 151.30 220.02 152.30 219.79 C153.30 219.55 154.30 219.31 155.30 219.08 C156.30 218.84 157.30 218.61 158.30 218.37 C159.30 218.14 160.30 217.91 161.30 217.68 C162.30 217.46 163.30 217.23 164.30 217.00 C165.30 216.78 166.30 216.55 167.30 216.33 C168.30 216.11 169.30 215.89 170.30 215.67 C171.30 215.45 172.30 215.24 173.30 215.02 C174.30 214.80 175.30 214.59 176.30 214.38 C177.30 214.16 178.30 213.95 179.30 213.74 C180.30 213.53 181.30 213.32 182.30 213.12 C183.30 212.91 184.30 212.70 185.30 212.50 C186.30 212.29 187.30 212.09 188.30 211.89 C189.30 211.69 190.30 211.49 191.30 211.29 C192.30 211.09 193.30 210.89 194.30 210.70 C195.30 210.50 196.30 210.30 197.30 210.11 C198.30 209.92 199.30 209.72 200.30 209.53 C201.30 209.34 202.30 209.15 203.30 208.96 C204.30 208.77 205.30 208.58 206.30 208.39 C207.30 208.21 208.30 208.02 209.30 207.84 C210.30 207.65 211.30 207.47 212.30 207.28 C213.30 207.10 214.30 206.92 215.30 206.74 C216.30 206.56 217.30 206.38 218.30 206.20 C219.30 206.02 220.30 205.84 221.30 205.66 C222.30 205.48 223.30 205.31 224.30 205.13 C225.30 204.96 226.30 204.78 227.30 204.61 C228.30 204.43 229.30 204.26 230.30 204.09 C231.30 203.92 232.30 203.75 233.30 203.57 C234.30 203.40 235.30 203.23 236.30 203.07 C237.30 202.90 238.30 202.73 239.30 202.56 C240.30 202.39 241.30 202.22 242.30 202.06 C243.30 201.89 244.30 201.73 245.30 201.56 C246.30 201.39 247.30 201.23 248.30 201.07 C249.30 200.90 250.30 200.74 251.30 200.57 C252.30 200.41 253.30 200.25 254.30 200.09 C255.30 199.93 256.30 199.77 257.30 199.60 C258.30 199.44 259.30 199.28 260.30 199.13 C261.30 198.97 262.30 198.81 263.30 198.65 C264.30 198.49 265.30 198.33 266.30 198.18 C267.30 198.02 268.30 197.86 269.30 197.71 C270.30 197.55 271.30 197.40 272.30 197.24 C273.30 197.09 274.30 196.93 275.30 196.78 C276.30 196.63 277.30 196.47 278.30 196.32 C279.30 196.17 280.30 196.02 281.30 195.86 C282.30 195.71 283.30 195.56 284.30 195.41 C285.30 195.26 286.30 195.11 287.30 194.96 C288.30 194.81 289.30 194.67 290.30 194.52 C291.30 194.37 292.30 194.22 293.30 194.07 C294.30 193.93 295.30 193.78 296.30 193.64 C297.30 193.49 298.30 193.34 299.30 193.20 C300.30 193.05 301.30 192.91 302.30 192.77 C303.30 192.62 304.30 192.48 305.30 192.34 C306.30 192.19 307.30 192.05 308.30 191.91 C309.30 191.77 310.30 191.62 311.30 191.48 C312.30 191.34 313.30 191.20 314.30 191.06 C315.30 190.92 316.30 190.78 317.30 190.64 C318.30 190.50 319.30 190.37 320.30 190.23 C321.30 190.09 322.30 189.95 323.30 189.82 C324.30 189.68 325.30 189.54 326.30 189.41 C327.30 189.27 328.30 189.13 329.30 189.00 C330.30 188.86 331.30 188.73 332.30 188.59 C333.30 188.46 334.30 188.33 335.30 188.19 C336.30 188.06 337.30 187.93 338.30 187.79 C339.30 187.66 340.30 187.53 341.30 187.40 C342.30 187.27 343.30 187.13 344.30 187.00 C345.30 186.87 346.30 186.74 347.30 186.61 C348.30 186.48 349.30 186.35 350.30 186.22 C351.30 186.09 352.30 185.97 353.30 185.84 C354.30 185.71 355.30 185.58 356.30 185.45 C357.30 185.33 358.30 185.20 359.30 185.07 C360.30 184.95 361.30 184.82 362.30 184.69 C363.30 184.57 364.30 184.44 365.30 184.32 C366.30 184.19 367.30 184.07 368.30 183.94 C369.30 183.82 370.30 183.69 371.30 183.57 C372.30 183.45 373.30 183.32 374.30 183.20 C375.30 183.08 376.30 182.96 377.30 182.83 C378.30 182.71 379.30 182.59 380.30 182.47 C381.30 182.35 382.30 182.23 383.30 182.11 C384.30 181.99 385.30 181.86 386.30 181.74 C387.30 181.62 388.30 181.51 389.30 181.39 C390.30 181.27 391.30 181.15 392.30 181.03 C393.30 180.91 394.30 180.79 395.30 180.67 C396.30 180.56 397.30 180.44 398.30 180.32 C399.30 180.20 400.30 180.09 401.30 179.97 C402.30 179.85 403.30 179.74 404.30 179.62 C405.30 179.50 406.30 179.39 407.30 179.27 C408.30 179.16 409.30 179.04 410.30 178.93 C411.30 178.81 412.30 178.70 413.30 178.58 C414.30 178.47 415.30 178.36 416.30 178.24 C417.30 178.13 418.30 178.02 419.30 177.90 C420.30 177.79 421.30 177.68 422.30 177.56 C423.30 177.45 424.30 177.34 425.30 177.23 C426.30 177.12 427.30 177.00 428.30 176.89 C429.30 176.78 430.30 176.67 431.30 176.56 C432.30 176.45 433.30 176.34 434.30 176.23 C435.30 176.12 436.30 176.01 437.30 175.90 C438.30 175.79 439.30 175.68 440.30 175.57 C441.30 175.46 442.30 175.35 443.30 175.24 C444.30 175.13 445.30 175.02 446.30 174.91 C447.30 174.81 448.30 174.70 449.30 174.59 C450.30 174.48 451.30 174.37 452.30 174.27 C453.30 174.16 454.30 174.05 455.30 173.94 C456.30 173.84 457.30 173.73 458.30 173.62 C459.30 173.52 460.30 173.41 461.30 173.30 C462.30 173.20 463.30 173.09 464.30 172.99 C465.30 172.88 466.30 172.77 467.30 172.67 C468.30 172.56 469.30 172.46 470.30 172.35 C471.30 172.25 472.30 172.14 473.30 172.04 C474.30 171.93 475.72 171.78 476.30 171.72 C476.88 171.66 476.72 171.68 476.80 171.67" fill="none" stroke="#ff0000" stroke-width="3.1" stroke-linejoin="round"/>
<path d="M62.30 256.87 C62.80 256.51 64.30 255.42 65.30 254.72 C66.30 254.03 67.30 253.35 68.30 252.69 C69.30 252.03 70.30 251.39 71.30 250.76 C72.30 250.13 73.30 249.53 74.30 248.94 C75.30 248.34 76.30 247.77 77.30 247.21 C78.30 246.65 79.30 246.11 80.30 245.58 C81.30 245.05 82.30 244.54 83.30 244.04 C84.30 243.54 85.30 243.05 86.30 242.58 C87.30 242.11 88.30 241.65 89.30 241.20 C90.30 240.75 91.30 240.32 92.30 239.89 C93.30 239.47 94.30 239.06 95.30 238.66 C96.30 238.26 97.30 237.87 98.30 237.48 C99.30 237.10 100.30 236.73 101.30 236.37 C102.30 236.01 103.30 235.66 104.30 235.31 C105.30 234.97 106.30 234.63 107.30 234.31 C108.30 233.98 109.30 233.66 110.30 233.35 C111.30 233.03 112.30 232.73 113.30 232.43 C114.30 232.13 115.30 231.84 116.30 231.56 C117.30 231.27 118.30 231.00 119.30 230.72 C120.30 230.45 121.30 230.19 122.30 229.92 C123.30 229.66 124.30 229.41 125.30 229.15 C126.30 228.90 127.30 228.66 128.30 228.41 C129.30 228.17 130.30 227.93 131.30 227.70 C132.30 227.46 133.30 227.23 134.30 227.00 C135.30 226.77 136.30 226.55 137.30 226.32 C138.30 226.10 139.30 225.88 140.30 225.66 C141.30 225.44 142.30 225.22 143.30 225.01 C144.30 224.79 145.30 224.58 146.30 224.37 C147.30 224.15 148.30 223.94 149.30 223.73 C150.30 223.53 151.30 223.32 152.30 223.11 C153.30 222.91 154.30 222.70 155.30 222.50 C156.30 222.30 157.30 222.10 158.30 221.90 C159.30 221.70 160.30 221.50 161.30 221.30 C162.30 221.10 163.30 220.91 164.30 220.71 C165.30 220.51 166.30 220.32 167.30 220.13 C168.30 219.93 169.30 219.74 170.30 219.55 C171.30 219.36 172.30 219.17 173.30 218.98 C174.30 218.79 175.30 218.60 176.30 218.42 C177.30 218.23 178.30 218.04 179.30 217.86 C180.30 217.67 181.30 217.48 182.30 217.30 C183.30 217.11 184.30 216.93 185.30 216.75 C186.30 216.56 187.30 216.38 188.30 216.20 C189.30 216.01 190.30 215.83 191.30 215.65 C192.30 215.47 193.30 215.29 194.30 215.11 C195.30 214.93 196.30 214.74 197.30 214.57 C198.30 214.39 199.30 214.21 200.30 214.03 C201.30 213.85 202.30 213.67 203.30 213.49 C204.30 213.32 205.30 213.14 206.30 212.96 C207.30 212.78 208.30 212.61 209.30 212.43 C210.30 212.26 211.30 212.08 212.30 211.91 C213.30 211.73 214.30 211.56 215.30 211.38 C216.30 211.21 217.30 211.03 218.30 210.86 C219.30 210.69 220.30 210.51 221.30 210.34 C222.30 210.17 223.30 210.00 224.30 209.83 C225.30 209.66 226.30 209.49 227.30 209.32 C228.30 209.15 229.30 208.98 230.30 208.82 C231.30 208.65 232.30 208.48 233.30 208.32 C234.30 208.15 235.30 207.99 236.30 207.83 C237.30 207.67 238.30 207.50 239.30 207.35 C240.30 207.19 241.30 207.03 242.30 206.87 C243.30 206.71 244.30 206.56 245.30 206.41 C246.30 206.25 247.30 206.10 248.30 205.95 C249.30 205.80 250.30 205.65 251.30 205.50 C252.30 205.35 253.30 205.21 254.30 205.06 C255.30 204.92 256.30 204.77 257.30 204.63 C258.30 204.49 259.30 204.35 260.30 204.21 C261.30 204.07 262.30 203.93 263.30 203.79 C264.30 203.66 265.30 203.52 266.30 203.39 C267.30 203.25 268.30 203.12 269.30 202.99 C270.30 202.86 271.30 202.72 272.30 202.59 C273.30 202.46 274.30 202.34 275.30 202.21 C276.30 202.08 277.30 201.96 278.30 201.83 C279.30 201.70 280.30 201.58 281.30 201.46 C282.30 201.33 283.30 201.21 284.30 201.09 C285.30 200.97 286.30 200.85 287.30 200.73 C288.30 200.61 289.30 200.49 290.30 200.37 C291.30 200.26 292.30 200.14 293.30 200.03 C294.30 199.91 295.30 199.79 296.30 199.68 C297.30 199.57 298.30 199.45 299.30 199.34 C300.30 199.23 301.30 199.12 302.30 199.01 C303.30 198.90 304.30 198.79 305.30 198.68 C306.30 198.57 307.30 198.46 308.30 198.35 C309.30 198.24 310.30 198.14 311.30 198.03 C312.30 197.92 313.30 197.82 314.30 197.71 C315.30 197.60 316.30 197.50 317.30 197.40 C318.30 197.29 319.30 197.19 320.30 197.08 C321.30 196.98 322.30 196.88 323.30 196.78 C324.30 196.67 325.30 196.57 326.30 196.47 C327.30 196.37 328.30 196.27 329.30 196.17 C330.30 196.07 331.30 195.97 332.30 195.87 C333.30 195.77 334.30 195.67 335.30 195.57 C336.30 195.47 337.30 195.37 338.30 195.27 C339.30 195.17 340.30 195.07 341.30 194.97 C342.30 194.87 343.30 194.78 344.30 194.68 C345.30 194.58 346.30 194.48 347.30 194.39 C348.30 194.29 349.30 194.19 350.30 194.09 C351.30 194.00 352.30 193.90 353.30 193.80 C354.30 193.70 355.30 193.61 356.30 193.51 C357.30 193.41 358.30 193.32 359.30 193.22 C360.30 193.12 361.30 193.02 362.30 192.93 C363.30 192.83 364.30 192.73 365.30 192.64 C366.30 192.54 367.30 192.44 368.30 192.34 C369.30 192.25 370.30 192.15 371.30 192.05 C372.30 191.96 373.30 191.86 374.30 191.76 C375.30 191.67 376.30 191.57 377.30 191.47 C378.30 191.38 379.30 191.28 380.30 191.18 C381.30 191.09 382.30 190.99 383.30 190.90 C384.30 190.80 385.30 190.70 386.30 190.61 C387.30 190.51 388.30 190.42 389.30 190.32 C390.30 190.23 391.30 190.13 392.30 190.04 C393.30 189.94 394.30 189.85 395.30 189.75 C396.30 189.66 397.30 189.57 398.30 189.47 C399.30 189.38 400.30 189.28 401.30 189.19 C402.30 189.10 403.30 189.00 404.30 188.91 C405.30 188.82 406.30 188.73 407.30 188.63 C408.30 188.54 409.30 188.45 410.30 188.36 C411.30 188.27 412.30 188.17 413.30 188.08 C414.30 187.99 415.30 187.90 416.30 187.81 C417.30 187.72 418.30 187.63 419.30 187.54 C420.30 187.45 421.30 187.36 422.30 187.28 C423.30 187.19 424.30 187.10 425.30 187.01 C426.30 186.92 427.30 186.83 428.30 186.75 C429.30 186.66 430.30 186.57 431.30 186.49 C432.30 186.40 433.30 186.32 434.30 186.23 C435.30 186.15 436.30 186.06 437.30 185.98 C438.30 185.89 439.30 185.81 440.30 185.73 C441.30 185.64 442.30 185.56 443.30 185.48 C444.30 185.40 445.30 185.31 446.30 185.23 C447.30 185.15 448.30 185.07 449.30 184.99 C450.30 184.91 451.30 184.83 452.30 184.75 C453.30 184.67 454.30 184.60 455.30 184.52 C456.30 184.44 457.30 184.36 458.30 184.29 C459.30 184.21 460.30 184.14 461.30 184.06 C462.30 183.99 463.30 183.91 464.30 183.84 C465.30 183.76 466.30 183.69 467.30 183.62 C468.30 183.55 469.30 183.48 470.30 183.40 C471.30 183.33 472.30 183.26 473.30 183.19 C474.30 183.12 475.72 183.03 476.30 182.99 C476.88 182.95 476.72 182.96 476.80 182.95" fill="none" stroke="#808000" stroke-width="3.1" stroke-linejoin="round"/>
<path d="M62.30 256.91 C62.80 256.39 64.30 254.82 65.30 253.79 C66.30 252.75 67.30 251.72 68.30 250.70 C69.30 249.68 70.30 248.66 71.30 247.65 C72.30 246.64 73.30 245.64 74.30 244.64 C75.30 243.65 76.30 242.66 77.30 241.68 C78.30 240.70 79.30 239.72 80.30 238.76 C81.30 237.79 82.30 236.83 83.30 235.88 C84.30 234.93 85.30 233.99 86.30 233.05 C87.30 232.12 88.30 231.19 89.30 230.27 C90.30 229.35 91.30 228.45 92.30 227.54 C93.30 226.64 94.30 225.75 95.30 224.87 C96.30 223.99 97.30 223.11 98.30 222.25 C99.30 221.39 100.30 220.53 101.30 219.69 C102.30 218.84 103.30 218.01 104.30 217.18 C105.30 216.36 106.30 215.54 107.30 214.74 C108.30 213.93 109.30 213.14 110.30 212.35 C111.30 211.57 112.30 210.80 113.30 210.04 C114.30 209.27 115.30 208.52 116.30 207.78 C117.30 207.04 118.30 206.31 119.30 205.59 C120.30 204.87 121.30 204.16 122.30 203.47 C123.30 202.77 124.30 202.08 125.30 201.40 C126.30 200.72 127.30 200.05 128.30 199.39 C129.30 198.73 130.30 198.08 131.30 197.44 C132.30 196.80 133.30 196.17 134.30 195.55 C135.30 194.93 136.30 194.31 137.30 193.71 C138.30 193.10 139.30 192.51 140.30 191.92 C141.30 191.33 142.30 190.75 143.30 190.18 C144.30 189.61 145.30 189.05 146.30 188.49 C147.30 187.94 148.30 187.39 149.30 186.85 C150.30 186.31 151.30 185.78 152.30 185.26 C153.30 184.73 154.30 184.21 155.30 183.70 C156.30 183.19 157.30 182.69 158.30 182.19 C159.30 181.69 160.30 181.20 161.30 180.71 C162.30 180.22 163.30 179.74 164.30 179.27 C165.30 178.79 166.30 178.32 167.30 177.85 C168.30 177.38 169.30 176.92 170.30 176.46 C171.30 176.00 172.30 175.55 173.30 175.10 C174.30 174.65 175.30 174.20 176.30 173.76 C177.30 173.31 178.30 172.87 179.30 172.43 C180.30 172.00 181.30 171.56 182.30 171.13 C183.30 170.70 184.30 170.27 185.30 169.84 C186.30 169.42 187.30 169.00 188.30 168.57 C189.30 168.15 190.30 167.74 191.30 167.32 C192.30 166.90 193.30 166.49 194.30 166.08 C195.30 165.66 196.30 165.25 197.30 164.85 C198.30 164.44 199.30 164.03 200.30 163.62 C201.30 163.22 202.30 162.81 203.30 162.41 C204.30 162.01 205.30 161.61 206.30 161.21 C207.30 160.80 208.30 160.40 209.30 160.00 C210.30 159.61 211.30 159.21 212.30 158.81 C213.30 158.41 214.30 158.01 215.30 157.61 C216.30 157.22 217.30 156.82 218.30 156.42 C219.30 156.02 220.30 155.62 221.30 155.23 C222.30 154.83 223.30 154.43 224.30 154.03 C225.30 153.63 226.30 153.24 227.30 152.84 C228.30 152.44 229.30 152.04 230.30 151.65 C231.30 151.25 232.30 150.86 233.30 150.46 C234.30 150.07 235.30 149.67 236.30 149.28 C237.30 148.89 238.30 148.50 239.30 148.11 C240.30 147.72 241.30 147.33 242.30 146.95 C243.30 146.56 244.30 146.18 245.30 145.80 C246.30 145.42 247.30 145.04 248.30 144.66 C249.30 144.29 250.30 143.91 251.30 143.54 C252.30 143.17 253.30 142.80 254.30 142.44 C255.30 142.07 256.30 141.71 257.30 141.35 C258.30 140.99 259.30 140.63 260.30 140.27 C261.30 139.92 262.30 139.56 263.30 139.21 C264.30 138.86 265.30 138.51 266.30 138.16 C267.30 137.81 268.30 137.47 269.30 137.12 C270.30 136.78 271.30 136.43 272.30 136.09 C273.30 135.75 274.30 135.41 275.30 135.07 C276.30 134.74 277.30 134.40 278.30 134.07 C279.30 133.73 280.30 133.40 281.30 133.06 C282.30 132.73 283.30 132.40 284.30 132.07 C285.30 131.74 286.30 131.41 287.30 131.08 C288.30 130.76 289.30 130.43 290.30 130.10 C291.30 129.78 292.30 129.45 293.30 129.13 C294.30 128.80 295.30 128.48 296.30 128.15 C297.30 127.83 298.30 127.51 299.30 127.18 C300.30 126.86 301.30 126.54 302.30 126.22 C303.30 125.89 304.30 125.57 305.30 125.25 C306.30 124.93 307.30 124.61 308.30 124.29 C309.30 123.97 310.30 123.64 311.30 123.32 C312.30 123.00 313.30 122.68 314.30 122.36 C315.30 122.03 316.30 121.71 317.30 121.39 C318.30 121.07 319.30 120.75 320.30 120.42 C321.30 120.10 322.30 119.78 323.30 119.46 C324.30 119.14 325.30 118.82 326.30 118.50 C327.30 118.18 328.30 117.86 329.30 117.54 C330.30 117.22 331.30 116.90 332.30 116.58 C333.30 116.27 334.30 115.95 335.30 115.63 C336.30 115.32 337.30 115.00 338.30 114.69 C339.30 114.37 340.30 114.06 341.30 113.75 C342.30 113.44 343.30 113.13 344.30 112.82 C345.30 112.51 346.30 112.20 347.30 111.89 C348.30 111.58 349.30 111.27 350.30 110.97 C351.30 110.66 352.30 110.35 353.30 110.05 C354.30 109.74 355.30 109.44 356.30 109.14 C357.30 108.83 358.30 108.53 359.30 108.23 C360.30 107.93 361.30 107.63 362.30 107.33 C363.30 107.03 364.30 106.73 365.30 106.43 C366.30 106.13 367.30 105.83 368.30 105.54 C369.30 105.24 370.30 104.94 371.30 104.65 C372.30 104.35 373.30 104.06 374.30 103.76 C375.30 103.47 376.30 103.18 377.30 102.88 C378.30 102.59 379.30 102.30 380.30 102.01 C381.30 101.72 382.30 101.43 383.30 101.14 C384.30 100.85 385.30 100.56 386.30 100.27 C387.30 99.98 388.30 99.69 389.30 99.40 C390.30 99.12 391.30 98.83 392.30 98.54 C393.30 98.26 394.30 97.97 395.30 97.69 C396.30 97.40 397.30 97.12 398.30 96.83 C399.30 96.55 400.30 96.27 401.30 95.98 C402.30 95.70 403.30 95.42 404.30 95.14 C405.30 94.86 406.30 94.57 407.30 94.29 C408.30 94.01 409.30 93.73 410.30 93.45 C411.30 93.17 412.30 92.90 413.30 92.62 C414.30 92.34 415.30 92.06 416.30 91.78 C417.30 91.50 418.30 91.23 419.30 90.95 C420.30 90.67 421.30 90.40 422.30 90.12 C423.30 89.84 424.30 89.57 425.30 89.29 C426.30 89.02 427.30 88.74 428.30 88.47 C429.30 88.19 430.30 87.92 431.30 87.65 C432.30 87.37 433.30 87.10 434.30 86.83 C435.30 86.55 436.78 86.15 437.30 86.01 C437.82 85.87 437.38 85.99 437.40 85.98" fill="none" stroke="#ff8080" stroke-width="3.1" stroke-linejoin="round"/>
<path d="M62.30 256.90 C62.80 256.13 64.30 253.85 65.30 252.26 C66.30 250.68 67.30 249.05 68.30 247.40 C69.30 245.75 70.30 244.07 71.30 242.38 C72.30 240.68 73.30 238.97 74.30 237.25 C75.30 235.53 76.30 233.80 77.30 232.08 C78.30 230.36 79.30 228.63 80.30 226.92 C81.30 225.22 82.30 223.51 83.30 221.84 C84.30 220.17 85.30 218.51 86.30 216.89 C87.30 215.27 88.30 213.68 89.30 212.13 C90.30 210.59 91.30 209.07 92.30 207.62 C93.30 206.17 94.30 204.77 95.30 203.41 C96.30 202.06 97.30 200.76 98.30 199.50 C99.30 198.24 100.30 197.02 101.30 195.84 C102.30 194.66 103.30 193.52 104.30 192.40 C105.30 191.28 106.30 190.20 107.30 189.14 C108.30 188.07 109.30 187.04 110.30 186.02 C111.30 184.99 112.30 183.99 113.30 182.99 C114.30 182.00 115.30 181.01 116.30 180.04 C117.30 179.06 118.30 178.09 119.30 177.13 C120.30 176.17 121.30 175.22 122.30 174.28 C123.30 173.34 124.30 172.40 125.30 171.48 C126.30 170.55 127.30 169.63 128.30 168.72 C129.30 167.81 130.30 166.90 131.30 166.01 C132.30 165.11 133.30 164.22 134.30 163.34 C135.30 162.46 136.30 161.58 137.30 160.71 C138.30 159.84 139.30 158.98 140.30 158.13 C141.30 157.27 142.30 156.42 143.30 155.58 C144.30 154.73 145.30 153.90 146.30 153.06 C147.30 152.23 148.30 151.41 149.30 150.58 C150.30 149.76 151.30 148.95 152.30 148.14 C153.30 147.32 154.30 146.52 155.30 145.72 C156.30 144.92 157.30 144.12 158.30 143.33 C159.30 142.53 160.30 141.75 161.30 140.96 C162.30 140.18 163.30 139.40 164.30 138.62 C165.30 137.84 166.30 137.07 167.30 136.30 C168.30 135.53 169.30 134.77 170.30 134.00 C171.30 133.24 172.30 132.48 173.30 131.73 C174.30 130.97 175.30 130.22 176.30 129.47 C177.30 128.72 178.30 127.98 179.30 127.23 C180.30 126.49 181.30 125.75 182.30 125.02 C183.30 124.28 184.30 123.55 185.30 122.82 C186.30 122.09 187.30 121.36 188.30 120.64 C189.30 119.92 190.30 119.20 191.30 118.48 C192.30 117.76 193.30 117.05 194.30 116.34 C195.30 115.63 196.30 114.92 197.30 114.22 C198.30 113.51 199.30 112.81 200.30 112.11 C201.30 111.41 202.30 110.71 203.30 110.02 C204.30 109.33 205.30 108.64 206.30 107.95 C207.30 107.26 208.30 106.57 209.30 105.89 C210.30 105.21 211.30 104.53 212.30 103.85 C213.30 103.17 214.30 102.50 215.30 101.83 C216.30 101.15 217.30 100.48 218.30 99.82 C219.30 99.15 220.30 98.48 221.30 97.82 C222.30 97.16 223.30 96.50 224.30 95.84 C225.30 95.18 226.30 94.53 227.30 93.87 C228.30 93.22 229.30 92.57 230.30 91.92 C231.30 91.27 232.30 90.63 233.30 89.98 C234.30 89.34 235.30 88.70 236.30 88.05 C237.30 87.41 238.30 86.78 239.30 86.14 C240.30 85.50 241.30 84.87 242.30 84.24 C243.30 83.61 244.30 82.98 245.30 82.35 C246.30 81.72 247.30 81.09 248.30 80.47 C249.30 79.84 250.30 79.22 251.30 78.60 C252.30 77.98 253.30 77.36 254.30 76.74 C255.30 76.12 256.30 75.51 257.30 74.89 C258.30 74.27 259.30 73.66 260.30 73.04 C261.30 72.42 262.30 71.81 263.30 71.19 C264.30 70.57 265.30 69.96 266.30 69.34 C267.30 68.72 268.30 68.10 269.30 67.48 C270.30 66.86 271.30 66.24 272.30 65.62 C273.30 65.00 274.30 64.37 275.30 63.74 C276.30 63.12 277.30 62.49 278.30 61.85 C279.30 61.22 280.30 60.59 281.30 59.95 C282.30 59.31 283.30 58.67 284.30 58.03 C285.30 57.38 286.30 56.74 287.30 56.09 C288.30 55.44 289.30 54.79 290.30 54.14 C291.30 53.49 292.30 52.84 293.30 52.18 C294.30 51.53 295.30 50.87 296.30 50.22 C297.30 49.56 298.30 48.91 299.30 48.25 C300.30 47.60 301.30 46.94 302.30 46.28 C303.30 45.63 304.30 44.97 305.30 44.32 C306.30 43.67 307.30 43.01 308.30 42.36 C309.30 41.71 310.30 41.06 311.30 40.41 C312.30 39.76 313.30 39.11 314.30 38.47 C315.30 37.83 316.30 37.18 317.30 36.54 C318.30 35.90 319.30 35.27 320.30 34.63 C321.30 34.00 322.30 33.37 323.30 32.74 C324.30 32.12 325.30 31.50 326.30 30.88 C327.30 30.26 328.30 29.64 329.30 29.03 C330.30 28.43 331.30 27.82 332.30 27.22 C333.30 26.62 334.58 25.86 335.30 25.44 C336.02 25.01 336.38 24.80 336.60 24.67 L344.00 22.70" fill="none" stroke="#808080" stroke-width="3.1" stroke-linejoin="round"/>
<path d="M62.30 256.91 C62.80 255.72 64.30 252.22 65.30 249.74 C66.30 247.25 67.30 244.62 68.30 241.99 C69.30 239.37 70.30 236.64 71.30 233.96 C72.30 231.29 73.30 228.56 74.30 225.92 C75.30 223.29 76.30 220.67 77.30 218.16 C78.30 215.64 79.30 213.20 80.30 210.84 C81.30 208.48 82.30 206.20 83.30 204.00 C84.30 201.81 85.30 199.69 86.30 197.65 C87.30 195.62 88.30 193.67 89.30 191.80 C90.30 189.93 91.30 188.16 92.30 186.43 C93.30 184.70 94.30 183.06 95.30 181.44 C96.30 179.82 97.30 178.26 98.30 176.70 C99.30 175.14 100.30 173.63 101.30 172.09 C102.30 170.56 103.30 169.04 104.30 167.51 C105.30 165.98 106.30 164.46 107.30 162.94 C108.30 161.42 109.30 159.90 110.30 158.40 C111.30 156.89 112.30 155.40 113.30 153.92 C114.30 152.44 115.30 150.97 116.30 149.52 C117.30 148.07 118.30 146.64 119.30 145.22 C120.30 143.80 121.30 142.39 122.30 141.00 C123.30 139.61 124.30 138.24 125.30 136.87 C126.30 135.51 127.30 134.16 128.30 132.83 C129.30 131.49 130.30 130.17 131.30 128.86 C132.30 127.55 133.30 126.25 134.30 124.96 C135.30 123.67 136.30 122.39 137.30 121.13 C138.30 119.86 139.30 118.61 140.30 117.36 C141.30 116.12 142.30 114.88 143.30 113.66 C144.30 112.43 145.30 111.21 146.30 110.00 C147.30 108.79 148.30 107.59 149.30 106.40 C150.30 105.21 151.30 104.02 152.30 102.85 C153.30 101.67 154.30 100.50 155.30 99.33 C156.30 98.17 157.30 97.01 158.30 95.86 C159.30 94.70 160.30 93.55 161.30 92.41 C162.30 91.27 163.30 90.13 164.30 89.00 C165.30 87.86 166.30 86.73 167.30 85.61 C168.30 84.48 169.30 83.36 170.30 82.24 C171.30 81.12 172.30 80.00 173.30 78.88 C174.30 77.77 175.30 76.65 176.30 75.54 C177.30 74.43 178.30 73.31 179.30 72.20 C180.30 71.09 181.30 69.98 182.30 68.87 C183.30 67.76 184.30 66.65 185.30 65.53 C186.30 64.42 187.30 63.31 188.30 62.19 C189.30 61.07 190.30 59.96 191.30 58.84 C192.30 57.72 193.30 56.60 194.30 55.47 C195.30 54.34 196.30 53.22 197.30 52.08 C198.30 50.95 199.30 49.81 200.30 48.67 C201.30 47.53 202.30 46.38 203.30 45.23 C204.30 44.08 205.30 42.92 206.30 41.76 C207.30 40.60 208.30 39.43 209.30 38.25 C210.30 37.08 211.30 35.90 212.30 34.70 C213.30 33.51 214.30 32.32 215.30 31.11 C216.30 29.90 217.65 28.26 218.30 27.47 C218.95 26.67 219.05 26.55 219.20 26.36" fill="none" stroke="#000080" stroke-width="3.1" stroke-linejoin="round"/>
<path d="M62.30 256.91 C62.80 255.64 64.30 252.47 65.30 249.30 C66.30 246.12 67.30 241.91 68.30 237.88 C69.30 233.85 70.30 229.21 71.30 225.14 C72.30 221.06 73.30 217.03 74.30 213.43 C75.30 209.83 76.30 206.63 77.30 203.53 C78.30 200.43 79.30 197.63 80.30 194.83 C81.30 192.03 82.30 189.38 83.30 186.75 C84.30 184.12 85.30 181.55 86.30 179.04 C87.30 176.53 88.30 174.07 89.30 171.66 C90.30 169.25 91.30 166.90 92.30 164.58 C93.30 162.25 94.30 159.98 95.30 157.74 C96.30 155.49 97.30 153.29 98.30 151.10 C99.30 148.92 100.30 146.77 101.30 144.64 C102.30 142.51 103.30 140.41 104.30 138.33 C105.30 136.24 106.30 134.18 107.30 132.14 C108.30 130.10 109.30 128.08 110.30 126.08 C111.30 124.07 112.30 122.09 113.30 120.11 C114.30 118.14 115.30 116.18 116.30 114.23 C117.30 112.28 118.30 110.35 119.30 108.42 C120.30 106.50 121.30 104.58 122.30 102.67 C123.30 100.76 124.30 98.85 125.30 96.95 C126.30 95.05 127.30 93.16 128.30 91.26 C129.30 89.37 130.30 87.47 131.30 85.58 C132.30 83.69 133.30 81.79 134.30 79.90 C135.30 78.00 136.30 76.11 137.30 74.22 C138.30 72.33 139.30 70.43 140.30 68.54 C141.30 66.65 142.30 64.76 143.30 62.87 C144.30 60.98 145.30 59.09 146.30 57.20 C147.30 55.31 148.30 53.43 149.30 51.54 C150.30 49.66 151.30 47.77 152.30 45.89 C153.30 44.00 154.60 41.56 155.30 40.24 C156.00 38.93 156.30 38.36 156.50 37.99" fill="none" stroke="#800080" stroke-width="3.1" stroke-linejoin="round"/>
</g>
<line x1="54.25" y1="0" x2="54.25" y2="262.50" stroke="#777" stroke-width="1.6"/>
<line x1="53.45" y1="261.70" x2="477.15" y2="261.70" stroke="#808080" stroke-width="1.8"/>
<line x1="476.55" y1="0" x2="476.55" y2="262.50" stroke="#3c3c3c" stroke-width="1.25"/>
<line x1="53.45" y1="0.50" x2="477.15" y2="0.50" stroke="#555" stroke-width="1"/>
<g stroke="#2a2a2a" stroke-width="1"><line x1="62.55" y1="261.7" x2="62.55" y2="256.7"/><line x1="62.55" y1="0.5" x2="62.55" y2="5.5"/><line x1="75.02" y1="261.7" x2="75.02" y2="258.7"/><line x1="75.02" y1="0.5" x2="75.02" y2="3.5"/><line x1="87.49" y1="261.7" x2="87.49" y2="258.7"/><line x1="87.49" y1="0.5" x2="87.49" y2="3.5"/><line x1="99.95" y1="261.7" x2="99.95" y2="258.7"/><line x1="99.95" y1="0.5" x2="99.95" y2="3.5"/><line x1="112.42" y1="261.7" x2="112.42" y2="258.7"/><line x1="112.42" y1="0.5" x2="112.42" y2="3.5"/><line x1="124.89" y1="261.7" x2="124.89" y2="256.7"/><line x1="124.89" y1="0.5" x2="124.89" y2="5.5"/><line x1="137.36" y1="261.7" x2="137.36" y2="258.7"/><line x1="137.36" y1="0.5" x2="137.36" y2="3.5"/><line x1="149.83" y1="261.7" x2="149.83" y2="258.7"/><line x1="149.83" y1="0.5" x2="149.83" y2="3.5"/><line x1="162.29" y1="261.7" x2="162.29" y2="258.7"/><line x1="162.29" y1="0.5" x2="162.29" y2="3.5"/><line x1="174.76" y1="261.7" x2="174.76" y2="258.7"/><line x1="174.76" y1="0.5" x2="174.76" y2="3.5"/><line x1="187.23" y1="261.7" x2="187.23" y2="256.7"/><line x1="187.23" y1="0.5" x2="187.23" y2="5.5"/><line x1="199.70" y1="261.7" x2="199.70" y2="258.7"/><line x1="199.70" y1="0.5" x2="199.70" y2="3.5"/><line x1="212.17" y1="261.7" x2="212.17" y2="258.7"/><line x1="212.17" y1="0.5" x2="212.17" y2="3.5"/><line x1="224.63" y1="261.7" x2="224.63" y2="258.7"/><line x1="224.63" y1="0.5" x2="224.63" y2="3.5"/><line x1="237.10" y1="261.7" x2="237.10" y2="258.7"/><line x1="237.10" y1="0.5" x2="237.10" y2="3.5"/><line x1="249.57" y1="261.7" x2="249.57" y2="256.7"/><line x1="249.57" y1="0.5" x2="249.57" y2="5.5"/><line x1="262.04" y1="261.7" x2="262.04" y2="258.7"/><line x1="262.04" y1="0.5" x2="262.04" y2="3.5"/><line x1="274.51" y1="261.7" x2="274.51" y2="258.7"/><line x1="274.51" y1="0.5" x2="274.51" y2="3.5"/><line x1="286.97" y1="261.7" x2="286.97" y2="258.7"/><line x1="286.97" y1="0.5" x2="286.97" y2="3.5"/><line x1="299.44" y1="261.7" x2="299.44" y2="258.7"/><line x1="299.44" y1="0.5" x2="299.44" y2="3.5"/><line x1="311.91" y1="261.7" x2="311.91" y2="256.7"/><line x1="311.91" y1="0.5" x2="311.91" y2="5.5"/><line x1="324.38" y1="261.7" x2="324.38" y2="258.7"/><line x1="324.38" y1="0.5" x2="324.38" y2="3.5"/><line x1="336.85" y1="261.7" x2="336.85" y2="258.7"/><line x1="336.85" y1="0.5" x2="336.85" y2="3.5"/><line x1="349.31" y1="261.7" x2="349.31" y2="258.7"/><line x1="349.31" y1="0.5" x2="349.31" y2="3.5"/><line x1="361.78" y1="261.7" x2="361.78" y2="258.7"/><line x1="361.78" y1="0.5" x2="361.78" y2="3.5"/><line x1="374.25" y1="261.7" x2="374.25" y2="256.7"/><line x1="374.25" y1="0.5" x2="374.25" y2="5.5"/><line x1="386.72" y1="261.7" x2="386.72" y2="258.7"/><line x1="386.72" y1="0.5" x2="386.72" y2="3.5"/><line x1="399.19" y1="261.7" x2="399.19" y2="258.7"/><line x1="399.19" y1="0.5" x2="399.19" y2="3.5"/><line x1="411.65" y1="261.7" x2="411.65" y2="258.7"/><line x1="411.65" y1="0.5" x2="411.65" y2="3.5"/><line x1="424.12" y1="261.7" x2="424.12" y2="258.7"/><line x1="424.12" y1="0.5" x2="424.12" y2="3.5"/><line x1="436.59" y1="261.7" x2="436.59" y2="256.7"/><line x1="436.59" y1="0.5" x2="436.59" y2="5.5"/><line x1="449.06" y1="261.7" x2="449.06" y2="258.7"/><line x1="449.06" y1="0.5" x2="449.06" y2="3.5"/><line x1="461.53" y1="261.7" x2="461.53" y2="258.7"/><line x1="461.53" y1="0.5" x2="461.53" y2="3.5"/><line x1="473.99" y1="261.7" x2="473.99" y2="258.7"/><line x1="473.99" y1="0.5" x2="473.99" y2="3.5"/><line x1="54.25" y1="256.55" x2="59.25" y2="256.55"/><line x1="476.55" y1="256.55" x2="471.55" y2="256.55"/><line x1="54.25" y1="242.27" x2="57.25" y2="242.27"/><line x1="476.55" y1="242.27" x2="473.55" y2="242.27"/><line x1="54.25" y1="227.98" x2="57.25" y2="227.98"/><line x1="476.55" y1="227.98" x2="473.55" y2="227.98"/><line x1="54.25" y1="213.69" x2="57.25" y2="213.69"/><line x1="476.55" y1="213.69" x2="473.55" y2="213.69"/><line x1="54.25" y1="199.41" x2="59.25" y2="199.41"/><line x1="476.55" y1="199.41" x2="471.55" y2="199.41"/><line x1="54.25" y1="185.12" x2="57.25" y2="185.12"/><line x1="476.55" y1="185.12" x2="473.55" y2="185.12"/><line x1="54.25" y1="170.84" x2="57.25" y2="170.84"/><line x1="476.55" y1="170.84" x2="473.55" y2="170.84"/><line x1="54.25" y1="156.56" x2="57.25" y2="156.56"/><line x1="476.55" y1="156.56" x2="473.55" y2="156.56"/><line x1="54.25" y1="142.27" x2="59.25" y2="142.27"/><line x1="476.55" y1="142.27" x2="471.55" y2="142.27"/><line x1="54.25" y1="127.99" x2="57.25" y2="127.99"/><line x1="476.55" y1="127.99" x2="473.55" y2="127.99"/><line x1="54.25" y1="113.70" x2="57.25" y2="113.70"/><line x1="476.55" y1="113.70" x2="473.55" y2="113.70"/><line x1="54.25" y1="99.42" x2="57.25" y2="99.42"/><line x1="476.55" y1="99.42" x2="473.55" y2="99.42"/><line x1="54.25" y1="85.13" x2="59.25" y2="85.13"/><line x1="476.55" y1="85.13" x2="471.55" y2="85.13"/><line x1="54.25" y1="70.84" x2="57.25" y2="70.84"/><line x1="476.55" y1="70.84" x2="473.55" y2="70.84"/><line x1="54.25" y1="56.56" x2="57.25" y2="56.56"/><line x1="476.55" y1="56.56" x2="473.55" y2="56.56"/><line x1="54.25" y1="42.28" x2="57.25" y2="42.28"/><line x1="476.55" y1="42.28" x2="473.55" y2="42.28"/><line x1="54.25" y1="27.99" x2="59.25" y2="27.99"/><line x1="476.55" y1="27.99" x2="471.55" y2="27.99"/><line x1="54.25" y1="13.71" x2="57.25" y2="13.71"/><line x1="476.55" y1="13.71" x2="473.55" y2="13.71"/></g>
<g font-family="'Liberation Serif', 'Times New Roman', serif" font-size="25" fill="#000"><text x="62.4" y="289.3" text-anchor="middle">0</text><text x="124.8" y="289.3" text-anchor="middle">1</text><text x="187.1" y="289.3" text-anchor="middle">2</text><text x="249.5" y="289.3" text-anchor="middle">3</text><text x="311.8" y="289.3" text-anchor="middle">4</text><text x="374.2" y="289.3" text-anchor="middle">5</text><text x="436.5" y="289.3" text-anchor="middle">6</text><text x="50" y="264.9" text-anchor="end">0</text><text x="50" y="207.8" text-anchor="end">2</text><text x="50" y="150.7" text-anchor="end">4</text><text x="50" y="93.5" text-anchor="end">6</text><text x="50" y="36.4" text-anchor="end">8</text></g>
<text font-family="'Liberation Serif', 'Times New Roman', serif" font-size="25" x="245.1" y="326.7" fill="#000">t <tspan font-size="22.3" dy="-0.9" dx="0.4">(</tspan><tspan dy="0.9" dx="0.5">s</tspan><tspan font-size="22.3" dy="-0.9" dx="1.1">)</tspan></text>
<g transform="translate(23.3,174.1) rotate(-90)" font-family="'Liberation Serif', 'Times New Roman', serif" font-size="25" fill="#000"><text x="0" y="0">x<tspan font-size="17.5" dy="4.6" dx="0.6">f</tspan></text><text x="29.9" y="0"><tspan font-size="22.3" dy="-0.9" dx="0.4">(</tspan><tspan dy="0.9" dx="0.5">mm</tspan><tspan font-size="22.3" dy="-0.9" dx="1.1">)</tspan></text></g>
<text font-family="'Liberation Serif', 'Times New Roman', serif" font-size="15.75" x="70.0" y="73.7" fill="#800080" stroke="#800080" stroke-width="0.08">A=10 nm</text>
<text font-family="'Liberation Serif', 'Times New Roman', serif" font-size="15.75" x="180.0" y="90.0" fill="#000080" stroke="#000080" stroke-width="0.08">A=8 nm</text>
<text font-family="'Liberation Serif', 'Times New Roman', serif" font-size="15.75" x="236.0" y="50.7" fill="#808080" stroke="#808080" stroke-width="0.08">A=6 nm</text>
<text font-family="'Liberation Serif', 'Times New Roman', serif" font-size="15.75" x="385.8" y="84.5" fill="#ff8080" stroke="#ff8080" stroke-width="0.08">A=4 nm</text>
<text font-family="'Liberation Serif', 'Times New Roman', serif" font-size="15.75" x="375.8" y="158.7" fill="#0000ff" stroke="#0000ff" stroke-width="0.08">A=1.60 nm</text>
<text font-family="'Liberation Serif', 'Times New Roman', serif" font-size="15.75" x="388.2" y="204.5" fill="#ff0000" stroke="#ff0000" stroke-width="0.08">A=1.44 nm</text>
<text font-family="'Liberation Serif', 'Times New Roman', serif" font-size="15.75" x="214.0" y="244.6" fill="#808000" stroke="#808000" stroke-width="0.08">A=0.95 nm</text>
</svg>
</body></html>
